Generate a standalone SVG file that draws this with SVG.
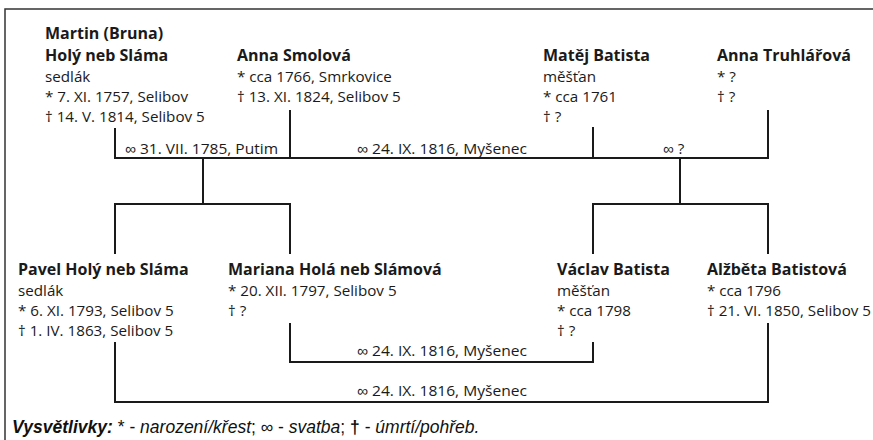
<svg xmlns="http://www.w3.org/2000/svg" width="873" height="440" viewBox="0 0 873 440">
<style>
.n{font-family:"Open Sans","Liberation Sans",sans-serif;font-weight:bold;font-size:16px;fill:#1a1a1a}
.t{font-family:"Open Sans","Liberation Sans",sans-serif;font-size:15.2px;fill:#1a1a1a}
.i{font-family:"Liberation Sans",sans-serif;font-size:15px}
.c{fill:none;stroke:#1a1a1a;stroke-width:2}
.lg{font-family:"Liberation Sans",Arial,sans-serif;font-size:17.5px;fill:#111}
</style>
<rect width="873" height="440" fill="#fff"/>
<path d="M5 441V9H873" fill="none" stroke="#333" stroke-width="1.5"/>
<g id="connectors">
<path class="c" d="M115 128V158H768V110M290 110V158M593 127V158"/>
<path class="c" d="M203 158V204M115 254V204H290V254"/>
<path class="c" d="M680 158V204M593 254V204H768V254"/>
<path class="c" d="M290 323V362H593V342"/>
<path class="c" d="M115 342V402H768V323"/>
<text class="t" x="125" y="154" textLength="153" lengthAdjust="spacingAndGlyphs"><tspan class="i">∞</tspan> 31. VII. 1785, Putim</text>
<text class="t" x="357" y="154" textLength="170" lengthAdjust="spacingAndGlyphs"><tspan class="i">∞</tspan> 24. IX. 1816, Myšenec</text>
<text class="t" x="663" y="154"><tspan class="i">∞</tspan> ?</text>
<text class="t" x="357" y="356" textLength="170" lengthAdjust="spacingAndGlyphs"><tspan class="i">∞</tspan> 24. IX. 1816, Myšenec</text>
<text class="t" x="357" y="396" textLength="170" lengthAdjust="spacingAndGlyphs"><tspan class="i">∞</tspan> 24. IX. 1816, Myšenec</text>
</g>
<g id="martin">
<text class="n" x="45" y="39">Martin (Bruna)</text>
<text class="n" x="45" y="61">Holý neb Sláma</text>
<text class="t" x="45" y="82">sedlák</text>
<text class="t" x="45" y="102">* 7. XI. 1757, Selibov</text>
<text class="t" x="45" y="122">† 14. V. 1814, Selibov 5</text>
</g>
<g id="anna-smolova">
<text class="n" x="237" y="61">Anna Smolová</text>
<text class="t" x="237" y="82">* cca 1766, Smrkovice</text>
<text class="t" x="237" y="102">† 13. XI. 1824, Selibov 5</text>
</g>
<g id="matej">
<text class="n" x="543" y="61">Matěj Batista</text>
<text class="t" x="543" y="82">měšťan</text>
<text class="t" x="543" y="102">* cca 1761</text>
<text class="t" x="543" y="122">† ?</text>
</g>
<g id="anna-truhlarova">
<text class="n" x="717" y="61">Anna Truhlářová</text>
<text class="t" x="717" y="82">* ?</text>
<text class="t" x="717" y="102">† ?</text>
</g>
<g id="pavel">
<text class="n" x="18" y="275">Pavel Holý neb Sláma</text>
<text class="t" x="18" y="296">sedlák</text>
<text class="t" x="18" y="316">* 6. XI. 1793, Selibov 5</text>
<text class="t" x="18" y="336">† 1. IV. 1863, Selibov 5</text>
</g>
<g id="mariana">
<text class="n" x="228" y="275">Mariana Holá neb Slámová</text>
<text class="t" x="228" y="296">* 20. XII. 1797, Selibov 5</text>
<text class="t" x="228" y="316">† ?</text>
</g>
<g id="vaclav">
<text class="n" x="557" y="275">Václav Batista</text>
<text class="t" x="557" y="296">měšťan</text>
<text class="t" x="557" y="316">* cca 1798</text>
<text class="t" x="557" y="336">† ?</text>
</g>
<g id="alzbeta">
<text class="n" x="707" y="275">Alžběta Batistová</text>
<text class="t" x="707" y="296">* cca 1796</text>
<text class="t" x="707" y="316">† 21. VI. 1850, Selibov 5</text>
</g>
<text class="lg" x="12" y="433"><tspan font-weight="bold" font-style="italic">Vysvětlivky:</tspan> * - <tspan font-style="italic">narození/křest</tspan>; ∞ - <tspan font-style="italic">svatba</tspan>; <tspan font-weight="bold">†</tspan> - <tspan font-style="italic">úmrtí/pohřeb.</tspan></text>
</svg>
